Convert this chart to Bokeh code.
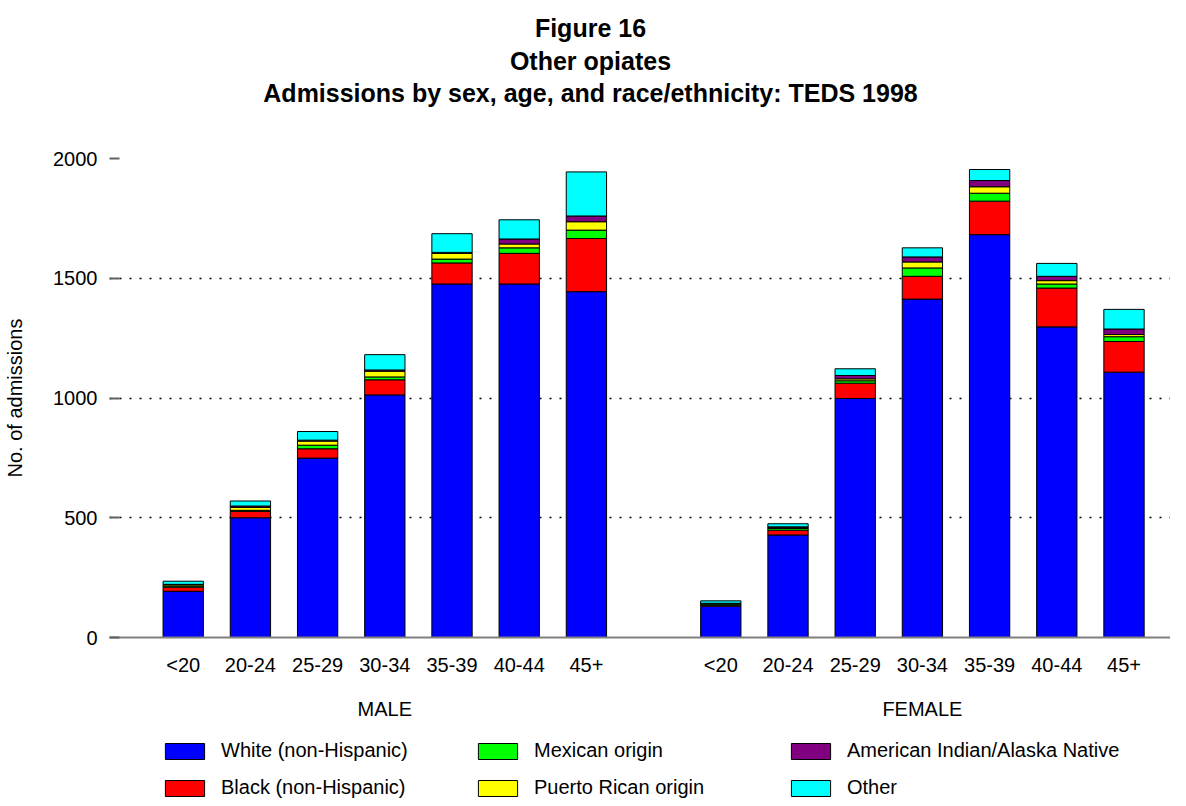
from bokeh.plotting import figure
from bokeh.layouts import column
from bokeh.models import (ColumnDataSource, Range1d, FixedTicker, LinearAxis,
                          Legend, LegendItem, Title)
from bokeh.embed import file_html
from bokeh.resources import INLINE

ages = ["<20", "20-24", "25-29", "30-34", "35-39", "40-44", "45+"]
sexes = ["MALE", "FEMALE"]
races = ["White (non-Hispanic)", "Black (non-Hispanic)", "Mexican origin",
         "Puerto Rican origin", "American Indian/Alaska Native", "Other"]
colors = ["#0000FF", "#FF0000", "#00FF00", "#FFFF00", "#800080", "#00FFFF"]

male_white = [193, 500, 749, 1013, 1476, 1476, 1444]
male_black = [17, 27, 39, 63, 88, 128, 222]
male_mexican = [5, 4, 15, 12, 16, 23, 35]
male_puerto_rican = [5, 12, 17, 24, 24, 16, 35]
male_amer_indian = [2, 6, 4, 5, 4, 21, 24]
male_other = [13, 21, 36, 64, 78, 80, 184]

female_white = [131, 428, 998, 1413, 1682, 1297, 1108]
female_black = [4, 20, 64, 95, 140, 162, 128]
female_mexican = [5, 7, 10, 35, 33, 17, 20]
female_puerto_rican = [1, 3, 8, 25, 27, 14, 9]
female_amer_indian = [2, 4, 14, 21, 26, 18, 23]
female_other = [10, 13, 28, 38, 46, 54, 82]

title_lines = ["Figure 16", "Other opiates",
               "Admissions by sex, age, and race/ethnicity: TEDS 1998"]

FONT = "Liberation Sans"
SLOTS_PER_GROUP = len(ages) + 1

xs, labels = [], {}
for si, s in enumerate(sexes):
    for ai, a in enumerate(ages):
        x = si * SLOTS_PER_GROUP + ai
        xs.append(x)
        labels[x] = a
group_centers = {si * SLOTS_PER_GROUP + (len(ages) - 1) // 2: s for si, s in enumerate(sexes)}

keys = ["white", "black", "mexican", "puerto_rican", "amer_indian", "other"]
data = {"x": xs}
data["white"] = male_white + female_white
data["black"] = male_black + female_black
data["mexican"] = male_mexican + female_mexican
data["puerto_rican"] = male_puerto_rican + female_puerto_rican
data["amer_indian"] = male_amer_indian + female_amer_indian
data["other"] = male_other + female_other
source = ColumnDataSource(data)

p = figure(frame_width=1061, frame_height=479, output_backend="svg", toolbar_location=None,
           x_range=Range1d(-1.097, 14.692), y_range=Range1d(0, 2000),
           min_border_left=109, min_border_right=0, min_border_top=0,
           min_border_bottom=0, title=None)
p.outline_line_color = None
p.background_fill_color = "white"
p.border_fill_color = "white"

renderers = p.vbar_stack(keys, x="x", width=0.6, source=source,
                         fill_color=colors, line_color="black", line_width=1)

# grid
p.xgrid.visible = False
p.ygrid.ticker = FixedTicker(ticks=[500, 1000, 1500, 2000])
p.ygrid.grid_line_color = "black"
p.ygrid.grid_line_dash = "2 8"
p.ygrid.grid_line_width = 1.5

# y axis
ya = p.yaxis[0]
ya.ticker = FixedTicker(ticks=[0, 500, 1000, 1500, 2000])
ya.axis_line_color = None
ya.major_tick_in = 10
ya.major_tick_out = 0
ya.major_tick_line_color = "#606060"
ya.major_tick_line_width = 2
ya.minor_tick_line_color = None
ya.major_label_standoff = 12
ya.major_label_text_font = FONT
ya.major_label_text_font_size = "20px"
ya.major_label_text_color = "black"
ya.axis_label = "No. of admissions"
ya.axis_label_text_font = FONT
ya.axis_label_text_font_size = "20px"
ya.axis_label_text_font_style = "normal"
ya.axis_label_text_color = "black"
ya.axis_label_standoff = 24

# x axis (ages)
xa = p.xaxis[0]
xa.ticker = FixedTicker(ticks=xs)
xa.major_label_overrides = labels
xa.axis_line_color = "#808080"
xa.axis_line_width = 2
xa.major_tick_in = 0
xa.major_tick_out = 0
xa.minor_tick_line_color = None
xa.major_label_standoff = 16
xa.major_label_text_font = FONT
xa.major_label_text_font_size = "20px"
xa.major_label_text_color = "black"

# x axis (sex groups)
xg = LinearAxis(ticker=FixedTicker(ticks=list(group_centers.keys())),
                major_label_overrides=group_centers)
xg.axis_line_color = None
xg.major_tick_in = 0
xg.major_tick_out = 0
xg.minor_tick_line_color = None
xg.major_label_standoff = 19
xg.major_label_text_font = FONT
xg.major_label_text_font_size = "20px"
xg.major_label_text_color = "black"
p.add_layout(xg, "below")

# titles, stacked from the plot outward: spacer, line 3, line 2, line 1
p.add_layout(Title(text=" ", standoff=9.5, text_font=FONT, text_font_size="25px"), "above")
title_offsets = [425.4, 400.4, 153.8]
title_standoffs = [22.9, -18.5, 22.9]
for txt, off, so in reversed(list(zip(title_lines, title_offsets, title_standoffs))):
    p.add_layout(Title(text=txt, align="left", offset=off, standoff=so,
                       text_font=FONT, text_font_size="25px", text_font_style="bold",
                       text_color="black"), "above")

# legend strip below the chart (legend-only renderers with no drawable data)
leg = figure(width=1170, height=77, output_backend="svg", toolbar_location=None,
             x_axis_location=None, y_axis_location=None,
             x_range=Range1d(0, 1), y_range=Range1d(0, 1),
             min_border_left=0, min_border_right=0, min_border_top=0, min_border_bottom=0)
leg.outline_line_color = None
leg.xgrid.visible = False
leg.ygrid.visible = False
leg_src = ColumnDataSource({"x": [float("nan")], "top": [float("nan")]})
leg_renderers = [leg.vbar(x="x", top="top", width=0.6, source=leg_src,
                          fill_color=c, line_color="black", line_width=1)
                 for c in colors]
legend = Legend(items=[LegendItem(label=r, renderers=[rend]) for r, rend in zip(races, leg_renderers)],
                orientation="vertical", nrows=2, location=(51, 0),
                glyph_width=49, glyph_height=20, label_height=20, label_width=238,
                spacing=14, label_standoff=12, padding=0, margin=0,
                border_line_alpha=0, background_fill_alpha=0,
                label_text_font=FONT, label_text_font_size="20px",
                label_text_color="black")
leg.add_layout(legend, "center")

open("out.html", "w").write(file_html(column(p, leg), INLINE))
